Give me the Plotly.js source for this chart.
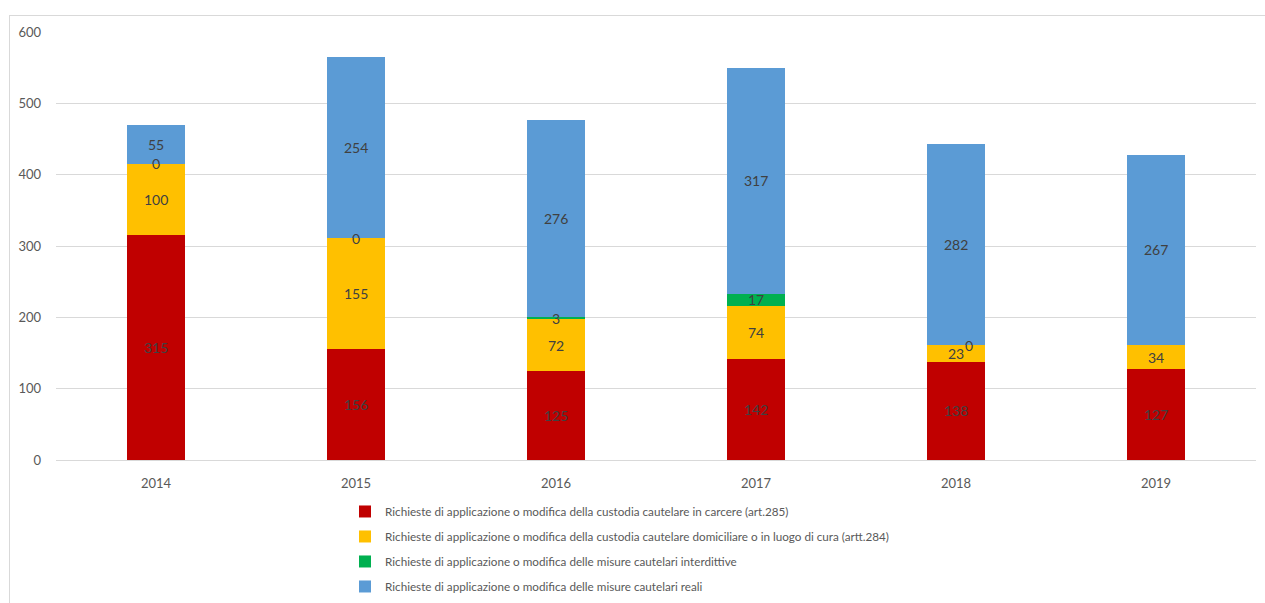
<!DOCTYPE html>
<html>
<head>
<meta charset="utf-8">
<script src="https://cdn.plot.ly/plotly-3.0.1.min.js"></script>
<style>
  html, body { margin: 0; padding: 0; background: #fff; overflow: hidden; }
  #frame { position: absolute; left: 9px; top: 15px; width: 1300px; height: 700px; border: 1px solid #d9d9d9; box-sizing: border-box; }
  #chart { position: absolute; left: 0; top: 0; width: 1265px; height: 603px; }
</style>
</head>
<body>
<div id="frame"></div>
<div id="chart"></div>
<script>
const years = ['2014', '2015', '2016', '2017', '2018', '2019'];
const carcere = [315, 156, 125, 142, 138, 127];
const domiciliare = [100, 155, 72, 74, 23, 34];
const interdittive = [0, 0, 3, 17, 0, null];
const reali = [55, 254, 276, 317, 282, 267];

const seriesNames = [
  'Richieste di applicazione o modifica della custodia cautelare in carcere (art.285)',
  'Richieste di applicazione o modifica della custodia cautelare domiciliare o in luogo di cura (artt.284)',
  'Richieste di applicazione o modifica delle misure cautelari interdittive',
  'Richieste di applicazione o modifica delle misure cautelari reali'
];
const seriesValues = [carcere, domiciliare, interdittive, reali];
const seriesColors = ['#C00000', '#FFC000', '#00B050', '#5B9BD5'];

const FONT = 'Lato, "Liberation Sans", sans-serif';

const traces = seriesValues.map((vals, i) => ({
  type: 'bar',
  name: seriesNames[i],
  x: years,
  y: vals,
  marker: { color: seriesColors[i], line: { width: 0 } },
  legendgroup: 'g' + i,
  hoverinfo: 'x+y+name'
}));

// Data labels centred in each segment (x given as category index)
const plotHeightPx = 428, yMax = 600;
const pxPerUnit = plotHeightPx / yMax;
const annotations = [];
years.forEach((yr, j) => {
  let base = 0;
  let prevCenter = null;
  seriesValues.forEach((vals, i) => {
    const v = vals[j];
    if (v === null || v === undefined) return;
    const c = base + v / 2;
    let xshift = 0;
    if (prevCenter !== null && Math.abs(c - prevCenter) * pxPerUnit < 12) xshift = 13;
    annotations.push({
      x: j, y: c, xref: 'x', yref: 'y', text: String(v), showarrow: false,
      xshift: xshift, font: { family: FONT, size: 14, color: '#404040' }
    });
    prevCenter = c;
    base += v;
  });
});

const layout = {
  width: 1265, height: 603,
  margin: { l: 56, r: 9, t: 32, b: 143, autoexpand: false },
  paper_bgcolor: 'rgba(0,0,0,0)',
  plot_bgcolor: 'rgba(0,0,0,0)',
  barmode: 'stack',
  bargap: 0.71,
  font: { family: FONT, color: '#595959' },
  xaxis: {
    type: 'category',
    range: [-0.5, years.length - 0.5],
    autorange: false,
    tickfont: { family: FONT, size: 13, color: '#595959' },
    ticks: '', showline: false, showgrid: false,
    ticklabelstandoff: 14
  },
  yaxis: {
    range: [0, 600], dtick: 100,
    tickfont: { family: FONT, size: 13, color: '#595959' },
    showgrid: true, gridcolor: '#d9d9d9', gridwidth: 1,
    zeroline: true, zerolinecolor: '#d9d9d9', zerolinewidth: 1,
    showline: false, ticks: '',
    ticklabelstandoff: 14
  },
  showlegend: true,
  legend: {
    orientation: 'v',
    x: 289 / 1200, xanchor: 'left', xref: 'paper',
    y: -0.0864, yanchor: 'top',
    traceorder: 'grouped',
    tracegroupgap: 6,
    itemclick: false,
    font: { family: FONT, size: 11.7, color: '#595959' },
    bgcolor: 'rgba(0,0,0,0)'
  },
  annotations: annotations
};

Plotly.newPlot('chart', traces, layout, { displayModeBar: false });
</script>
</body>
</html>
